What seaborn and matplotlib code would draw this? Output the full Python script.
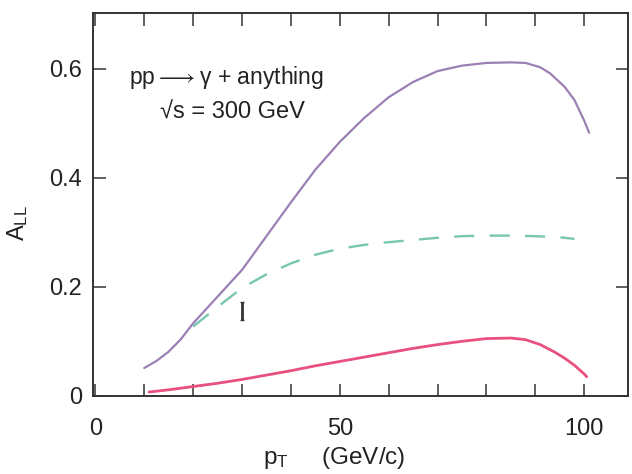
import numpy as np
import pandas as pd
import matplotlib as mpl
mpl.use("Agg")
import matplotlib.pyplot as plt
import seaborn as sns

# values
pt_top = [10, 12.5, 15, 17.5, 20, 25, 30, 35, 40, 45, 50, 55, 60, 65, 70, 75, 80, 85, 88, 91, 93, 96, 98, 100, 101]
all_top = [0.051, 0.064, 0.081, 0.104, 0.133, 0.182, 0.231, 0.293, 0.355, 0.415, 0.466, 0.51, 0.548, 0.576,
           0.596, 0.606, 0.611, 0.612, 0.611, 0.603, 0.592, 0.567, 0.543, 0.505, 0.483]

pt_mid = [20, 22.5, 25, 30, 35, 40, 45, 50, 55, 60, 65, 70, 75, 80, 85, 90, 95, 98]
all_mid = [0.127, 0.145, 0.163, 0.198, 0.223, 0.243, 0.259, 0.27, 0.277, 0.282, 0.286, 0.29, 0.293,
           0.294, 0.294, 0.293, 0.291, 0.288]

pt_low = [11, 15, 20, 25, 30, 35, 40, 45, 50, 55, 60, 65, 70, 75, 80, 85, 88, 91, 94, 96, 98, 100, 100.5]
all_low = [0.007, 0.011, 0.017, 0.023, 0.03, 0.038, 0.046, 0.055, 0.063, 0.071, 0.079, 0.087, 0.094,
           0.1, 0.105, 0.106, 0.103, 0.094, 0.08, 0.069, 0.056, 0.04, 0.035]

err_x = [30]
err_y = [0.156]
err_dy = [0.017]

xticks = [0, 10, 20, 30, 40, 50, 60, 70, 80, 90, 100]
xticklabels = ["0", "", "", "", "", "50", "", "", "", "", "100"]
yticks = [0, 0.2, 0.4, 0.6]
yticklabels = ["0", "0.2", "0.4", "0.6"]

sns.set_style("ticks")
plt.rcParams['font.family'] = ['Liberation Sans', 'DejaVu Sans']
plt.rcParams['mathtext.default'] = 'regular'

fig = plt.figure(figsize=(6.32, 4.74), dpi=100)
ax = fig.add_axes([0.147, 0.165, 0.847, 0.808])

df_top = pd.DataFrame({"pt": pt_top, "all": all_top})
df_mid = pd.DataFrame({"pt": pt_mid, "all": all_mid})
df_low = pd.DataFrame({"pt": pt_low, "all": all_low})

sns.lineplot(data=df_top, x="pt", y="all", ax=ax, color="#9a80b4", lw=1.6, sort=False)
sns.lineplot(data=df_mid, x="pt", y="all", ax=ax, color="#78c6b0", lw=1.7, sort=False,
             linestyle=(0, (8.5, 6.5)))
sns.lineplot(data=df_low, x="pt", y="all", ax=ax, color="#e8507e", lw=2.0, sort=False)

ax.errorbar(err_x, err_y, yerr=err_dy, fmt="none", ecolor="#333333", elinewidth=2.0, capsize=1.5, capthick=1.0)

ax.text(26.8, 0.585, r"pp$\longrightarrow$$\gamma$ + anything", ha="center", va="center", fontsize=16.5,
        color="#222222")
ax.text(28.0, 0.519, "\u221as = 300 GeV", ha="center", va="center", fontsize=17, color="#222222")

ax.set_xlim(-0.5, 109)
ax.set_ylim(0, 0.703)
ax.set_xticks(xticks)
ax.set_xticklabels(xticklabels)
ax.set_yticks(yticks)
ax.set_yticklabels(yticklabels)
ax.tick_params(direction="in", length=9, width=1.1, color="#333333", labelsize=17,
               labelcolor="#222222", top=True, right=True)
ax.tick_params(axis="x", pad=16)
ax.tick_params(axis="y", pad=8)
for s in ax.spines.values():
    s.set_linewidth(1.4)
    s.set_color("#333333")

ax.set_xlabel(r"$p_T$     (GeV/c)", fontsize=17.5, color="#222222")
ax.set_ylabel(r"$A_{LL}$", fontsize=17, color="#222222")
ax.xaxis.set_label_coords(0.45, -0.128)
ax.yaxis.set_label_coords(-0.118, 0.45)

fig.savefig("out.png", dpi=100)
